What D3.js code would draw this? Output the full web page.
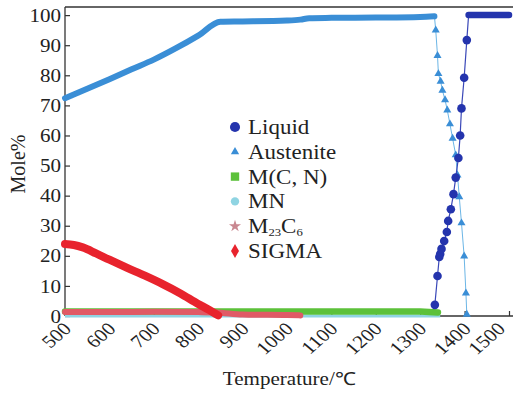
<!DOCTYPE html>
<html>
<head>
<meta charset="utf-8">
<script src="https://cdn.jsdelivr.net/npm/d3@7"></script>
<style>
  body { margin: 0; background: #fff; }
  text { font-family: "Liberation Serif", "Times New Roman", serif; fill: #222; }
</style>
</head>
<body>
<div id="chart"></div>
<script>
// ---- data ----
var xTicks = [500, 600, 700, 800, 900, 1000, 1100, 1200, 1300, 1400, 1500];
var yTicks = [0, 10, 20, 30, 40, 50, 60, 70, 80, 90, 100];

var liquidT = [1333, 1339, 1343, 1345, 1348, 1354, 1360, 1363, 1369, 1375, 1380, 1386, 1390, 1393, 1399, 1405, 1409, 1430, 1450, 1470, 1490, 1500];
var liquidV = [3.7, 13.3, 19.6, 20.6, 22.3, 24.9, 27.9, 31.6, 35.5, 40.5, 46, 52.5, 60, 69, 79.2, 91.7, 100, 100, 100, 100, 100, 100];

var austeniteT = [500, 550, 600, 650, 700, 750, 800, 850, 900, 1000, 1030, 1050, 1100, 1200, 1300, 1332,
                  1335, 1339, 1341, 1346, 1350, 1356, 1361, 1367, 1373, 1380, 1384, 1388, 1393, 1399, 1403, 1405];
var austeniteV = [72.4, 75.5, 78.7, 82, 85.2, 89, 93.2, 97.8, 97.9, 98.2, 98.5, 99, 99.1, 99.2, 99.4, 99.6,
                  95, 86.5, 80.5, 78, 75, 71.8, 68.4, 63.8, 59, 53.5, 46.8, 39.6, 30.9, 19.9, 7.6, 0.5];

var mcnT = [500, 600, 700, 800, 900, 1000, 1100, 1200, 1300, 1340];
var mcnV = [1.5, 1.5, 1.5, 1.5, 1.5, 1.5, 1.5, 1.5, 1.5, 1.2];

var mnT = [500, 700, 900, 1100, 1300, 1345];
var mnV = [0, 0, 0, 0, 0, 0];

var m23c6T = [500, 600, 700, 800, 840, 900, 1000, 1030];
var m23c6V = [1.3, 1.3, 1.4, 1.3, 1.2, 0.5, 0.3, 0.2];

var sigmaT = [500, 520, 540, 570, 600, 640, 680, 720, 760, 800, 825, 845];
var sigmaV = [23.9, 23.6, 22.8, 20.8, 18.7, 16.0, 13.4, 10.6, 7.5, 4.0, 2.0, 0.2];

var legendNames = ["Liquid", "Austenite", "M(C, N)", "MN", "M23C6", "SIGMA"];
var legendColors = ["#2434ad", "#3a8ed6", "#5cc13a", "#8fd4e2", "#c98790", "#e8232d"];

// ---- layout ----
var W = 513, H = 394;
var x = d3.scaleLinear().domain([500, 1500]).range([65, 509]);
var y = d3.scaleLinear().domain([0, 102.7]).range([316, 7]);
var sx = 1.17;

var svg = d3.select("#chart").append("svg").attr("width", W).attr("height", H);
svg.append("rect").attr("width", W).attr("height", H).attr("fill", "#fff");

function pts(ts, vs) { return ts.map(function (t, i) { return { t: t, v: vs[i] }; }); }
var line = d3.line().x(function (d) { return x(d.t); }).y(function (d) { return y(d.v); });
var smooth = d3.line().curve(d3.curveMonotoneX).x(function (d) { return x(d.t); }).y(function (d) { return y(d.v); });

// axes
var gx = svg.append("g").attr("transform", "translate(0,316)")
  .call(d3.axisBottom(x).tickValues(xTicks).tickSizeInner(-5).tickSizeOuter(0).tickFormat(d3.format("d")));
gx.select(".domain").remove();
gx.selectAll("line").attr("stroke", "#333").attr("stroke-width", 1.2);
gx.selectAll("text")
  .attr("y", 0).attr("dy", null)
  .attr("text-anchor", "end")
  .attr("font-size", 18)
  // last label pulled in a little so it stays inside the 513px frame
  .attr("transform", function (d) { return "translate(" + (d === 1500 ? -3 : 7) + ",14) scale(" + sx + ",1) rotate(-45)"; });

var gy = svg.append("g").attr("transform", "translate(65,0)")
  .call(d3.axisLeft(y).tickValues(yTicks).tickSizeInner(-5).tickSizeOuter(0));
gy.select(".domain").remove();
gy.selectAll("line").attr("stroke", "#333").attr("stroke-width", 1.2);
gy.selectAll("text")
  .attr("x", 0).attr("dy", "0.34em")
  .attr("font-size", 18)
  .attr("transform", "translate(-4,0) scale(" + sx + ",1)");

svg.append("line").attr("x1", 65).attr("x2", W).attr("y1", 316).attr("y2", 316).attr("stroke", "#333").attr("stroke-width", 1.3);
svg.append("line").attr("x1", 65).attr("x2", 65).attr("y1", 7).attr("y2", 316).attr("stroke", "#333").attr("stroke-width", 1.3);
svg.append("line").attr("x1", 65).attr("x2", W).attr("y1", 7).attr("y2", 7).attr("stroke", "#333").attr("stroke-width", 1.3);

svg.append("text").attr("transform", "translate(25,164) rotate(-90)")
  .attr("text-anchor", "middle").attr("font-size", 20).text("Mole%");
svg.append("text").attr("transform", "translate(289,385) scale(" + sx + ",1)")
  .attr("text-anchor", "middle").attr("font-size", 18).text("Temperature/℃");

// ---- series ----
var plot = svg.append("g");

plot.append("path").datum(pts(mnT, mnV)).attr("d", line)
  .attr("fill", "none").attr("stroke", legendColors[3]).attr("stroke-width", 3);

plot.append("path").datum(pts(mcnT, mcnV)).attr("d", line)
  .attr("fill", "none").attr("stroke", legendColors[2]).attr("stroke-width", 6.5).attr("stroke-linecap", "round");

plot.append("path").datum(pts(m23c6T, m23c6V)).attr("d", smooth)
  .attr("fill", "none").attr("stroke", "#e05a66").attr("stroke-width", 6).attr("stroke-linecap", "round");

plot.append("path").datum(pts(sigmaT, sigmaV)).attr("d", smooth)
  .attr("fill", "none").attr("stroke", legendColors[5]).attr("stroke-width", 8).attr("stroke-linecap", "round");

// austenite
var aus = pts(austeniteT, austeniteV);
plot.append("path").datum(aus.filter(function (d) { return d.t >= 1332; })).attr("d", line)
  .attr("fill", "none").attr("stroke", "#6cb6e6").attr("stroke-width", 1);
plot.append("path").datum(aus.filter(function (d) { return d.t <= 1332; })).attr("d", smooth)
  .attr("fill", "none").attr("stroke", legendColors[1]).attr("stroke-width", 6).attr("stroke-linecap", "round");
plot.selectAll(".tri").data(aus.filter(function (d) { return d.t > 1332; })).enter()
  .append("path").attr("class", "tri")
  .attr("d", d3.symbol().type(d3.symbolTriangle).size(28))
  .attr("transform", function (d) { return "translate(" + x(d.t) + "," + y(d.v) + ")"; })
  .attr("fill", legendColors[1]);

// liquid
var liq = pts(liquidT, liquidV);
plot.append("path").datum(liq).attr("d", line)
  .attr("fill", "none").attr("stroke", "#3a48b8").attr("stroke-width", 1.2);
plot.append("path").datum(liq.filter(function (d) { return d.v >= 100; })).attr("d", line)
  .attr("fill", "none").attr("stroke", legendColors[0]).attr("stroke-width", 6.5).attr("stroke-linecap", "round");
plot.selectAll(".dot").data(liq.filter(function (d) { return d.v < 100; })).enter()
  .append("circle").attr("class", "dot")
  .attr("cx", function (d) { return x(d.t); })
  .attr("cy", function (d) { return y(d.v); })
  .attr("r", 4.3).attr("fill", legendColors[0]);

// ---- legend ----
var symbols = [d3.symbolCircle, d3.symbolTriangle, d3.symbolSquare, d3.symbolCircle, d3.symbolStar, d3.symbolDiamond];
var symSizes = [80, 30, 70, 55, 45, 55];
var leg = svg.append("g");
legendNames.forEach(function (name, i) {
  var cy = 127 + i * 24.8;
  leg.append("path")
    .attr("d", d3.symbol().type(symbols[i]).size(symSizes[i]))
    .attr("transform", "translate(235," + cy + ")")
    .attr("fill", legendColors[i]);
  var t = leg.append("text")
    .attr("transform", "translate(248," + (cy + 7) + ") scale(1.15,1)")
    .attr("font-size", 20);
  if (name === "M23C6") {
    t.append("tspan").text("M");
    t.append("tspan").attr("font-size", 11).attr("dy", 3).text("23");
    t.append("tspan").attr("dy", -3).text("C");
    t.append("tspan").attr("font-size", 11).attr("dy", 3).text("6");
  } else {
    t.text(name);
  }
});
</script>
</body>
</html>
